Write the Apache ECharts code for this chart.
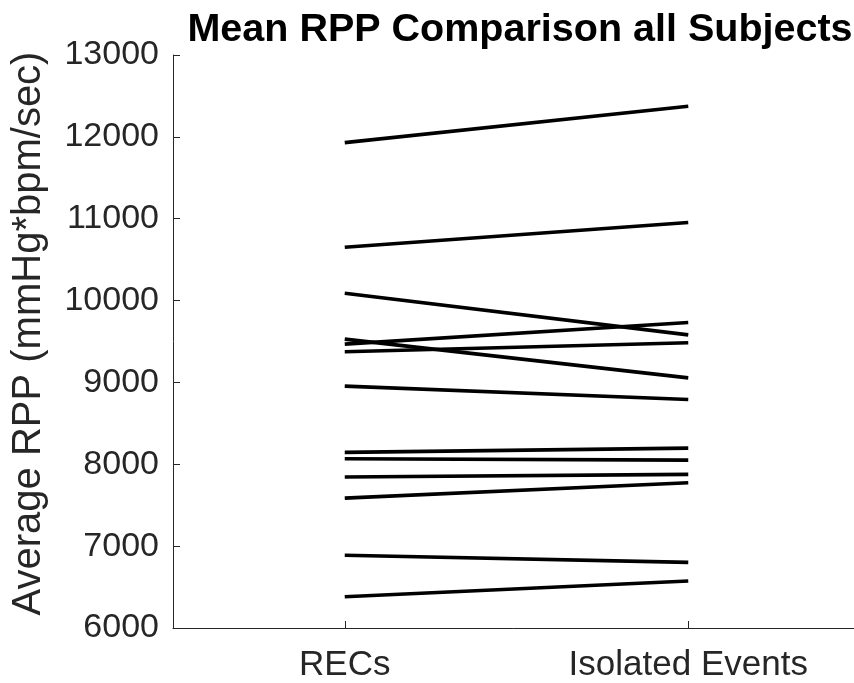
<!DOCTYPE html>
<html>
<head>
<meta charset="utf-8">
<script src="https://cdn.jsdelivr.net/npm/echarts@6/dist/echarts.min.js"></script>
<style>html,body{margin:0;padding:0;background:#fff;}#c{width:854px;height:683px;}</style>
</head>
<body>
<div id="c"></div>
<script>
const categories = ['RECs', 'Isolated Events'];
const recsValues = [11930, 10652, 10090, 9529, 9468, 9374, 8955, 8145, 8067, 7844, 7587, 6888, 6382];
const isolatedValues = [12374, 10954, 9581, 9056, 9733, 9484, 8792, 8198, 8051, 7877, 7774, 6802, 6574];
const yTicks = [6000, 7000, 8000, 9000, 10000, 11000, 12000, 13000];

const chart = echarts.init(document.getElementById('c'), null, {renderer: 'canvas'});
const series = recsValues.map((v, i) => ({
  type: 'line',
  data: [v, isolatedValues[i]],
  symbol: 'none',
  lineStyle: {color: '#000', width: 3.6},
  silent: true
}));
chart.setOption({
  animation: false,
  backgroundColor: '#fff',
  title: {
    text: 'Mean RPP Comparison all Subjects',
    left: 515,
    textAlign: 'center',
    top: 5,
    textStyle: {fontFamily: 'Liberation Sans', fontWeight: 'bold', fontSize: 39.5, color: '#000'}
  },
  grid: {left: 173, top: 55, height: 573, width: 687, containLabel: false, outerBoundsMode: 'none'},
  xAxis: {
    type: 'category',
    data: categories,
    boundaryGap: true,
    axisLine: {lineStyle: {color: '#262626', width: 1}},
    axisTick: {show: true, inside: true, length: 7, alignWithLabel: true, lineStyle: {color: '#262626', width: 1}},
    axisLabel: {fontFamily: 'Liberation Sans', fontSize: 35, color: '#262626', margin: 20},
    splitLine: {show: false}
  },
  yAxis: {
    type: 'value',
    min: yTicks[0],
    max: yTicks[yTicks.length - 1],
    interval: 1000,
    name: 'Average RPP (mmHg*bpm/sec)',
    nameLocation: 'middle',
    nameGap: 124,
    nameTextStyle: {fontFamily: 'Liberation Sans', fontSize: 40, color: '#262626', padding: [0, 0, 0, 16]},
    axisLine: {show: true, lineStyle: {color: '#262626', width: 1}},
    axisTick: {show: true, inside: true, length: 7, lineStyle: {color: '#262626', width: 1}},
    axisLabel: {fontFamily: 'Liberation Sans', fontSize: 34, color: '#262626', margin: 14, formatter: v => String(v)},
    splitLine: {show: false}
  },
  series: series
});
</script>
</body>
</html>
